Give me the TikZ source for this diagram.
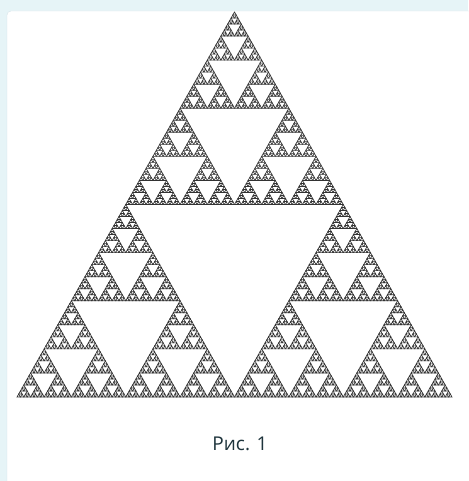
\documentclass[tikz,border=0pt]{standalone}
\usepackage{fontspec}
\setmainfont{Open Sans}
\usepackage{xcolor}
\usepackage{tikz}
\definecolor{backdrop}{RGB}{230, 244, 247}
\definecolor{panelrim}{RGB}{214, 228, 232}
\definecolor{captiontext}{RGB}{30, 52, 60}
\definecolor{gasketline}{RGB}{50, 50, 50}

\tikzset{
  cell/.style={draw=gasketline, line width=0.65pt, line join=miter},
}

% level, x, y (lower left corner), width, height
\newcommand\sierp[5]{%
  \ifnum#1=0\relax
    \draw[cell] (#2,#3) -- +(#4,0) -- +({#4/2},#5) -- cycle;
  \else
    \begingroup
    \pgfmathtruncatemacro\sl{#1-1}%
    \pgfmathsetmacro\sw{#4/2}%
    \pgfmathsetmacro\sh{#5/2}%
    \pgfmathsetmacro\sxr{#2+#4/2}%
    \pgfmathsetmacro\sxm{#2+#4/4}%
    \pgfmathsetmacro\sym{#3+#5/2}%
    \edef\sdo{%
      \noexpand\sierp{\sl}{#2}{#3}{\sw}{\sh}%
      \noexpand\sierp{\sl}{\sxr}{#3}{\sw}{\sh}%
      \noexpand\sierp{\sl}{\sxm}{\sym}{\sw}{\sh}}%
    \sdo
    \endgroup
  \fi}

\begin{document}
\begin{tikzpicture}[x=1pt, y=1pt]
% Page
\useasboundingbox (0,0) rectangle (468,481);
\fill[backdrop] (0,0) rectangle (468,481);
\filldraw[fill=white, draw=panelrim, rounded corners=4pt] (7,-10) rectangle (490,470);

% Gasket
\sierp{7}{17}{84}{435}{385}

% Caption
\node[font=\fontsize{19}{23}\selectfont, text=captiontext] (caption) at (240,37) {Рис. 1};
\end{tikzpicture}
\end{document}
